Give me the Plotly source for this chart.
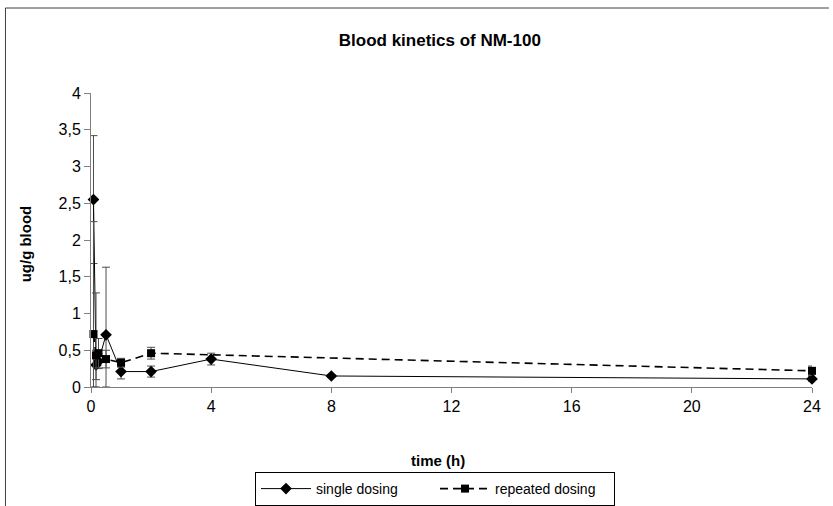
import plotly.graph_objects as go

# Sampling times (h) and blood concentrations (ug/g blood), mean ± SD
single_t = [0.083, 0.167, 0.25, 0.5, 1, 2, 4, 8, 24]
single_y = [2.55, 0.30, 0.35, 0.71, 0.21, 0.21, 0.38, 0.15, 0.11]
single_sd = [0.87, 0.20, 0.10, 0.92, 0.10, 0.075, 0.08, 0.02, 0.03]

repeated_t = [0.083, 0.167, 0.25, 0.5, 1, 2, 24]
repeated_y = [0.72, 0.43, 0.46, 0.38, 0.33, 0.46, 0.22]
repeated_sd = [1.53, 0.85, 0.20, 0.12, 0.06, 0.08, 0.065]

x_ticks = [0, 4, 8, 12, 16, 20, 24]
y_ticks = [0, 0.5, 1, 1.5, 2, 2.5, 3, 3.5, 4]
y_tick_text = ["0", "0,5", "1", "1,5", "2", "2,5", "3", "3,5", "4"]

FONT = "Liberation Sans, Arial, sans-serif"
ERR_COLOR = "#4d4d4d"


def err_dict(y, sd):
    # lower whisker stops at the x axis
    return dict(type="data", symmetric=False, array=sd,
                arrayminus=[min(s, v) for s, v in zip(sd, y)],
                color=ERR_COLOR, thickness=1, width=4)


fig = go.Figure()
fig.add_trace(go.Scatter(
    x=single_t, y=single_y, name="single dosing", mode="lines+markers",
    line=dict(color="black", width=1),
    marker=dict(symbol="diamond", size=9, color="black"),
    error_y=err_dict(single_y, single_sd), cliponaxis=False,
))
fig.add_trace(go.Scatter(
    x=repeated_t, y=repeated_y, name="repeated dosing", mode="lines+markers",
    line=dict(color="black", width=1.6, dash="8px,5px"),
    marker=dict(symbol="square", size=8, color="black"),
    error_y=err_dict(repeated_y, repeated_sd), cliponaxis=False,
))

axis_color = "#808080"
fig.update_layout(
    width=833, height=506,
    margin=dict(l=91, r=17, t=93, b=119),
    paper_bgcolor="white", plot_bgcolor="white",
    font=dict(family=FONT, size=15, color="black"),
    showlegend=True,
    legend=dict(orientation="h", xref="container", yref="container",
                x=435 / 833, xanchor="center", y=1 - 472 / 506, yanchor="top",
                bordercolor="black", borderwidth=1, font=dict(size=14),
                entrywidth=114, itemwidth=50, tracegroupgap=0),
    title=dict(text="<b>Blood kinetics of NM-100</b>", x=0.528, xanchor="center",
               y=1 - 40 / 506, yanchor="middle", font=dict(size=17)),
    xaxis=dict(range=[0, 24], tickvals=x_ticks, showgrid=False, zeroline=False,
               showline=True, linecolor=axis_color, linewidth=1,
               ticks="outside", ticklen=5, tickcolor=axis_color,
               tickfont=dict(size=16)),
    yaxis=dict(range=[0, 4], tickvals=y_ticks, ticktext=y_tick_text, showgrid=False,
               zeroline=False, showline=True, linecolor=axis_color, linewidth=1,
               ticks="outside", ticklen=6, tickcolor=axis_color,
               tickfont=dict(size=16)),
    annotations=[
        dict(text="<b>time (h)</b>", xref="paper", yref="paper",
             x=(440 - 91) / 725, y=(387 - 460) / 294, showarrow=False,
             xanchor="center", yanchor="middle", font=dict(size=15)),
        dict(text="<b>ug/g blood</b>", xref="paper", yref="paper",
             x=(25 - 91) / 725, y=(387 - 244) / 294, showarrow=False, textangle=-90,
             xanchor="center", yanchor="middle", font=dict(size=15)),
    ],
    shapes=[
        dict(type="line", xref="paper", yref="paper",
             x0=(5 - 91) / 725, x1=(833 - 91) / 725, y0=(387 - 8) / 294, y1=(387 - 8) / 294,
             line=dict(color="#404040", width=1)),
        dict(type="line", xref="paper", yref="paper",
             x0=(5 - 91) / 725, x1=(5 - 91) / 725, y0=(387 - 8) / 294, y1=(387 - 506) / 294,
             line=dict(color="#404040", width=1)),
    ],
)

fig.write_html("out.html")
